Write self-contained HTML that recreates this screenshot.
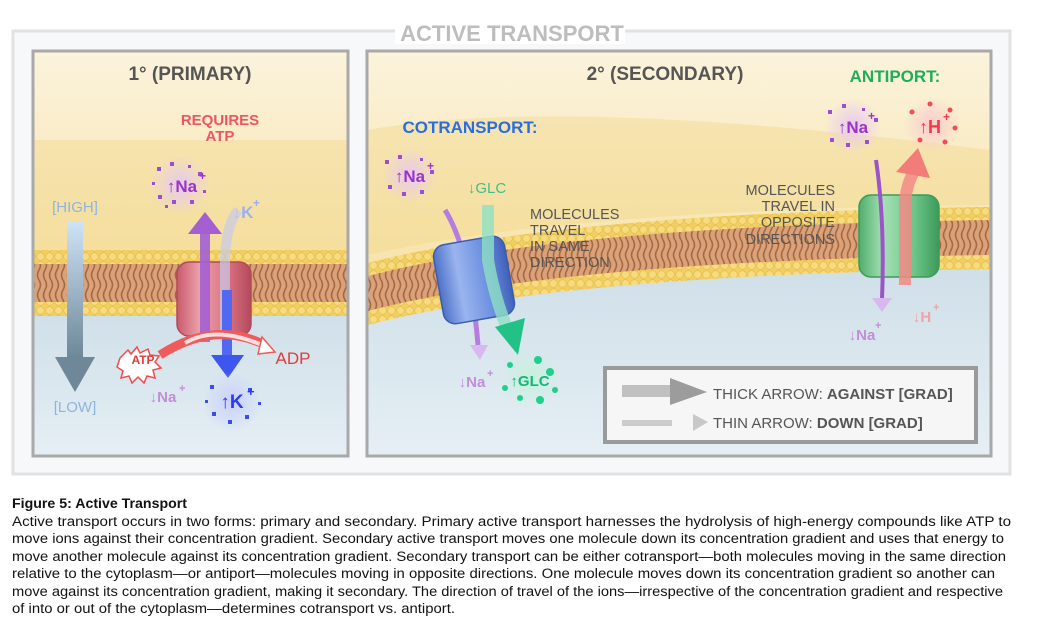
<!DOCTYPE html>
<html><head><meta charset="utf-8"><style>
html,body{margin:0;padding:0;background:#fff;width:1048px;height:633px;overflow:hidden}
svg{display:block}
.h{font-family:"Liberation Sans",sans-serif;font-weight:bold}
.c{font-family:"Liberation Sans",sans-serif;font-size:13.5px;fill:#111}
</style></head><body>
<svg width="1048" height="633" viewBox="0 0 1048 633" xmlns="http://www.w3.org/2000/svg">
<defs>
<linearGradient id="sky" x1="0" y1="0" x2="0" y2="1">
<stop offset="0" stop-color="#fbf3dc"/><stop offset="0.5" stop-color="#f7e4ae"/><stop offset="1" stop-color="#f3d88e"/></linearGradient>
<linearGradient id="cyto" x1="0" y1="0" x2="0" y2="1">
<stop offset="0" stop-color="#cfdfe8"/><stop offset="1" stop-color="#e6eff5"/></linearGradient>
<pattern id="tails" width="6" height="40" patternUnits="userSpaceOnUse">
<rect width="6" height="40" fill="#d9a27a"/>
<path d="M3 0 q3 5 0 10 q-3 5 0 10 q3 5 0 10 q-3 5 0 10" stroke="#a8683f" stroke-width="1.6" fill="none"/></pattern>
<pattern id="heads" width="9" height="9" patternUnits="userSpaceOnUse">
<rect width="9" height="9" fill="#f1cf63"/><circle cx="4.5" cy="4.5" r="3.8" fill="#f6dc7e" stroke="#e4b94a" stroke-width="0.6"/></pattern>
<linearGradient id="red" x1="0" x2="1"><stop offset="0" stop-color="#c95a6b"/><stop offset="0.3" stop-color="#eba0ab"/><stop offset="0.7" stop-color="#d9707f"/><stop offset="1" stop-color="#b24a5c"/></linearGradient>
<linearGradient id="blue" x1="0" x2="1"><stop offset="0" stop-color="#4e72c8"/><stop offset="0.3" stop-color="#9ab4ee"/><stop offset="0.7" stop-color="#6a8ee0"/><stop offset="1" stop-color="#3f61b8"/></linearGradient>
<linearGradient id="green" x1="0" x2="1"><stop offset="0" stop-color="#4fae6c"/><stop offset="0.3" stop-color="#a5e0b5"/><stop offset="0.7" stop-color="#6cc488"/><stop offset="1" stop-color="#3c9a5a"/></linearGradient>
<linearGradient id="grad1" x1="0" y1="0" x2="0" y2="1"><stop offset="0" stop-color="#cfe3f6"/><stop offset="1" stop-color="#6d8898"/></linearGradient>
<radialGradient id="gp"><stop offset="0" stop-color="#e7c9f0"/><stop offset="1" stop-color="#e7c9f0" stop-opacity="0"/></radialGradient>
<radialGradient id="gb"><stop offset="0" stop-color="#c9d0fb"/><stop offset="1" stop-color="#c9d0fb" stop-opacity="0"/></radialGradient>
<radialGradient id="gr"><stop offset="0" stop-color="#fbc9cc"/><stop offset="1" stop-color="#fbc9cc" stop-opacity="0"/></radialGradient>
<radialGradient id="gg"><stop offset="0" stop-color="#c4f2dc"/><stop offset="1" stop-color="#c4f2dc" stop-opacity="0"/></radialGradient>
<clipPath id="cl"><rect x="34" y="52" width="313" height="403"/></clipPath>
<clipPath id="cr"><rect x="368" y="52" width="622" height="403"/></clipPath>
</defs>

<rect x="13" y="31" width="997" height="443" fill="#f6f8fa" stroke="#e2e2e2" stroke-width="3"/>
<rect x="395" y="20" width="230" height="24" fill="#fff"/>
<text x="512" y="41" text-anchor="middle" class="h" font-size="22" fill="#bdbdbd">ACTIVE TRANSPORT</text>

<!-- LEFT PANEL -->
<g clip-path="url(#cl)">
<rect x="34" y="52" width="313" height="403" fill="url(#sky)"/>
<rect x="34" y="140" width="313" height="110" fill="#f2d37e" opacity="0.35"/>
<rect x="34" y="310" width="313" height="150" fill="url(#cyto)"/>
<rect x="34" y="250" width="313" height="15" fill="url(#heads)"/>
<rect x="34" y="264" width="313" height="40" fill="url(#tails)"/>
<rect x="34" y="302" width="313" height="14" fill="url(#heads)"/>
</g>
<rect x="33" y="51" width="315" height="405" fill="none" stroke="#a9a9a9" stroke-width="3"/>
<text x="190" y="80" text-anchor="middle" class="h" font-size="19" fill="#555">1° (PRIMARY)</text>
<text x="220" y="125" text-anchor="middle" class="h" font-size="15" fill="#ee5461">REQUIRES</text>
<text x="220" y="141" text-anchor="middle" class="h" font-size="15" fill="#ee5461">ATP</text>
<text x="75" y="212" text-anchor="middle" font-family="Liberation Sans" font-size="15" fill="#8fb4e0">[HIGH]</text>
<rect x="67" y="222" width="16" height="135" fill="url(#grad1)"/>
<polygon points="55,357 95,357 75,392" fill="#6f8899"/>
<text x="75" y="412" text-anchor="middle" font-family="Liberation Sans" font-size="15" fill="#8fb4e0">[LOW]</text>
<circle cx="180" cy="185" r="30" fill="url(#gp)"/>
<g fill="#9a4fd0"><rect x="157" y="167" width="4" height="4"/><rect x="170" y="162" width="4" height="4"/><rect x="188" y="165" width="3" height="3"/><rect x="198" y="172" width="4" height="4"/><rect x="158" y="195" width="4" height="4"/><rect x="172" y="200" width="4" height="4"/><rect x="190" y="200" width="4" height="4"/><rect x="203" y="190" width="3" height="3"/><rect x="152" y="182" width="3" height="3"/><rect x="165" y="205" width="3" height="3"/></g>
<text x="182" y="192" text-anchor="middle" class="h" font-size="17" fill="#9a34c8">↑Na</text>
<text x="199" y="180" class="h" font-size="12" fill="#9a34c8">+</text>
<text x="243" y="218" text-anchor="middle" class="h" font-size="17" fill="#9fb0ec">↓K</text>
<text x="253" y="207" class="h" font-size="12" fill="#9fb0ec">+</text>
<rect x="177" y="262" width="74" height="74" rx="12" fill="url(#red)" stroke="#b24a5c" stroke-width="1.5"/>
<rect x="200" y="232" width="10" height="110" fill="#a45fd3" opacity="0.9"/>
<polygon points="188,234 222,234 205,212" fill="#a45fd3"/>
<path d="M225 342 L225 260 Q226 225 238 210" stroke="#c8cbe8" stroke-width="10" fill="none" opacity="0.7"/>
<rect x="222" y="290" width="10" height="65" fill="#5268f0"/>
<polygon points="211,355 244,355 228,378" fill="#3e55ee"/>
<path d="M160 355 Q215 320 265 345" stroke="#ef5a5a" stroke-width="9" fill="none"/>
<path d="M185 343 Q215 325 262 345" stroke="#fff" stroke-width="4" fill="none" opacity="0.8"/>
<polygon points="262,337 275,352 258,354" fill="#fff" stroke="#ef5a5a" stroke-width="1.5"/>
<path d="M120 358 l8 -8 l3 4 l6 -7 l3 6 l8 -4 l2 6 l9 1 l-4 6 l6 6 l-8 2 l2 8 l-8 -2 l-3 7 l-6 -6 l-6 6 l-3 -7 l-8 2 l2 -7 l-6 -4z" fill="#fff" stroke="#ef4c4c" stroke-width="1.5"/>
<text x="143" y="364" text-anchor="middle" class="h" font-size="12" fill="#e23b3b">ATP</text>
<text x="293" y="364" text-anchor="middle" font-family="Liberation Sans" font-size="17" fill="#e23b3b">ADP</text>
<text x="163" y="402" text-anchor="middle" class="h" font-size="15" fill="#c18ed8">↓Na</text>
<text x="179" y="392" class="h" font-size="11" fill="#c18ed8">+</text>
<circle cx="232" cy="402" r="30" fill="url(#gb)"/>
<g fill="#3b4fe8"><rect x="210" y="385" width="4" height="4"/><rect x="248" y="388" width="4" height="4"/><rect x="212" y="412" width="4" height="4"/><rect x="228" y="420" width="4" height="4"/><rect x="245" y="415" width="4" height="4"/><rect x="258" y="402" width="3" height="3"/><rect x="205" y="400" width="3" height="3"/></g>
<text x="232" y="408" text-anchor="middle" class="h" font-size="19" fill="#2a3ee6">↑K</text>
<text x="247" y="396" class="h" font-size="13" fill="#2a3ee6">+</text>

<!-- RIGHT PANEL -->
<g clip-path="url(#cr)">
<rect x="368" y="52" width="622" height="403" fill="url(#sky)"/>
<path d="M368 130 Q560 95 990 150 L990 205 Q560 210 368 255Z" fill="#f2d37e" opacity="0.35"/>
<path d="M368 322 Q560 272 990 266 L990 460 L368 460Z" fill="url(#cyto)"/>
<path d="M368 263 Q560 213 990 207 L990 222 Q560 228 368 278Z" fill="url(#heads)"/>
<path d="M368 276 Q560 226 990 220 L990 258 Q560 264 368 314Z" fill="url(#tails)"/>
<path d="M368 311 Q560 261 990 255 L990 269 Q560 275 368 325Z" fill="url(#heads)"/>
</g>
<rect x="367" y="51" width="624" height="405" fill="none" stroke="#a9a9a9" stroke-width="3"/>
<text x="665" y="80" text-anchor="middle" class="h" font-size="19" fill="#555">2° (SECONDARY)</text>
<text x="895" y="82" text-anchor="middle" class="h" font-size="17" fill="#1eae58">ANTIPORT:</text>
<text x="470" y="133" text-anchor="middle" class="h" font-size="17" fill="#2a6de0">COTRANSPORT:</text>
<circle cx="410" cy="175" r="28" fill="url(#gp)"/>
<g fill="#9a4fd0"><rect x="385" y="160" width="4" height="4"/><rect x="398" y="155" width="4" height="4"/><rect x="420" y="158" width="3" height="3"/><rect x="430" y="170" width="4" height="4"/><rect x="388" y="185" width="4" height="4"/><rect x="402" y="192" width="4" height="4"/><rect x="420" y="190" width="4" height="4"/></g>
<text x="410" y="182" text-anchor="middle" class="h" font-size="17" fill="#9a34c8">↑Na</text>
<text x="427" y="170" class="h" font-size="12" fill="#9a34c8">+</text>
<text x="487" y="193" text-anchor="middle" font-family="Liberation Sans" font-size="15" fill="#3fc08a">↓GLC</text>
<path d="M445 210 Q470 250 478 345" stroke="#b57de0" stroke-width="5" fill="none"/>
<polygon points="470,345 488,345 480,360" fill="#d8b8ee"/>
<rect x="438" y="240" width="72" height="80" rx="12" transform="rotate(-10 474 280)" fill="url(#blue)" stroke="#3a5cb0" stroke-width="1.5"/>
<path d="M488 205 L488 260 Q495 300 508 330" stroke="#8fe0c4" stroke-width="12" fill="none" opacity="0.8"/>
<polygon points="495,327 525,318 518,355" fill="#22c287"/>
<text x="472" y="387" text-anchor="middle" class="h" font-size="15" fill="#c18ed8">↓Na</text>
<text x="487" y="377" class="h" font-size="11" fill="#c18ed8">+</text>
<circle cx="530" cy="378" r="30" fill="url(#gg)"/>
<g fill="#1fcf8c"><circle cx="510" cy="365" r="3"/><circle cx="538" cy="360" r="4"/><circle cx="550" cy="372" r="4"/><circle cx="555" cy="390" r="3"/><circle cx="540" cy="400" r="4"/><circle cx="520" cy="398" r="3"/><circle cx="505" cy="388" r="3"/></g>
<text x="530" y="386" text-anchor="middle" class="h" font-size="15" fill="#15b777">↑GLC</text>
<g font-family="Liberation Sans" font-size="14.5" fill="#555">
<text x="530" y="219">MOLECULES</text><text x="530" y="235">TRAVEL</text><text x="530" y="251">IN SAME</text><text x="530" y="267">DIRECTION</text>
<text x="835" y="195" text-anchor="end">MOLECULES</text><text x="835" y="211" text-anchor="end">TRAVEL IN</text><text x="835" y="227" text-anchor="end">OPPOSITE</text><text x="835" y="244" text-anchor="end">DIRECTIONS</text>
</g>
<circle cx="853" cy="126" r="28" fill="url(#gp)"/>
<g fill="#9a4fd0"><rect x="828" y="110" width="4" height="4"/><rect x="842" y="104" width="4" height="4"/><rect x="862" y="108" width="3" height="3"/><rect x="874" y="118" width="4" height="4"/><rect x="830" y="138" width="4" height="4"/><rect x="846" y="143" width="4" height="4"/><rect x="865" y="140" width="4" height="4"/></g>
<text x="853" y="133" text-anchor="middle" class="h" font-size="17" fill="#9a34c8">↑Na</text>
<text x="868" y="120" class="h" font-size="12" fill="#9a34c8">+</text>
<circle cx="932" cy="125" r="28" fill="url(#gr)"/>
<g fill="#ef4c55"><circle cx="912" cy="112" r="2.5"/><circle cx="930" cy="104" r="2.5"/><circle cx="950" cy="110" r="2.5"/><circle cx="955" cy="128" r="2.5"/><circle cx="945" cy="142" r="2.5"/><circle cx="920" cy="140" r="2.5"/></g>
<text x="930" y="133" text-anchor="middle" class="h" font-size="18" fill="#ef3b45">↑H</text>
<text x="943" y="121" class="h" font-size="12" fill="#ef3b45">+</text>
<rect x="859" y="195" width="80" height="82" rx="12" fill="url(#green)" stroke="#3c9a5a" stroke-width="1.5"/>
<path d="M876 160 Q885 220 882 300" stroke="#9a55c8" stroke-width="4" fill="none"/>
<polygon points="872,298 892,298 882,312" fill="#d8b8ee"/>
<path d="M905 285 L905 200 Q908 180 915 170" stroke="#f28a85" stroke-width="12" fill="none" opacity="0.85"/>
<polygon points="896,172 930,178 918,148" fill="#f27c78"/>
<text x="862" y="340" text-anchor="middle" class="h" font-size="15" fill="#c18ed8">↓Na</text>
<text x="875" y="329" class="h" font-size="11" fill="#c18ed8">+</text>
<text x="922" y="322" text-anchor="middle" class="h" font-size="15" fill="#f1a2a2">↓H</text>
<text x="933" y="311" class="h" font-size="11" fill="#f1a2a2">+</text>
<rect x="605" y="368" width="371" height="74" fill="#f6f6f6" stroke="#9a9a9a" stroke-width="4"/>
<rect x="622" y="385" width="50" height="12" fill="#aaa" opacity="0.7"/>
<polygon points="670,378 670,405 707,392" fill="#9c9c9c"/>
<rect x="622" y="420" width="50" height="6" fill="#ccc"/>
<polygon points="693,414 693,431 708,422" fill="#c8c8c8"/>
<text x="713" y="399" font-family="Liberation Sans" font-size="15" fill="#555">THICK ARROW: <tspan font-weight="bold">AGAINST [GRAD]</tspan></text>
<text x="713" y="428" font-family="Liberation Sans" font-size="15" fill="#555">THIN ARROW: <tspan font-weight="bold">DOWN [GRAD]</tspan></text>

<text x="12" y="508" class="c" font-weight="bold" textLength="175" lengthAdjust="spacingAndGlyphs">Figure 5: Active Transport</text>
<text x="12" y="526" class="c" textLength="999" lengthAdjust="spacingAndGlyphs">Active transport occurs in two forms: primary and secondary. Primary active transport harnesses the hydrolysis of high-energy compounds like ATP to</text>
<text x="12" y="543" class="c" textLength="992" lengthAdjust="spacingAndGlyphs">move ions against their concentration gradient. Secondary active transport moves one molecule down its concentration gradient and uses that energy to</text>
<text x="12" y="561" class="c" textLength="994" lengthAdjust="spacingAndGlyphs">move another molecule against its concentration gradient. Secondary transport can be either cotransport—both molecules moving in the same direction</text>
<text x="12" y="578" class="c" textLength="983" lengthAdjust="spacingAndGlyphs">relative to the cytoplasm—or antiport—molecules moving in opposite directions. One molecule moves down its concentration gradient so another can</text>
<text x="12" y="596" class="c" textLength="991" lengthAdjust="spacingAndGlyphs">move against its concentration gradient, making it secondary. The direction of travel of the ions—irrespective of the concentration gradient and respective</text>
<text x="12" y="613" class="c" textLength="443" lengthAdjust="spacingAndGlyphs">of into or out of the cytoplasm—determines cotransport vs. antiport.</text>
</svg>
</body></html>
